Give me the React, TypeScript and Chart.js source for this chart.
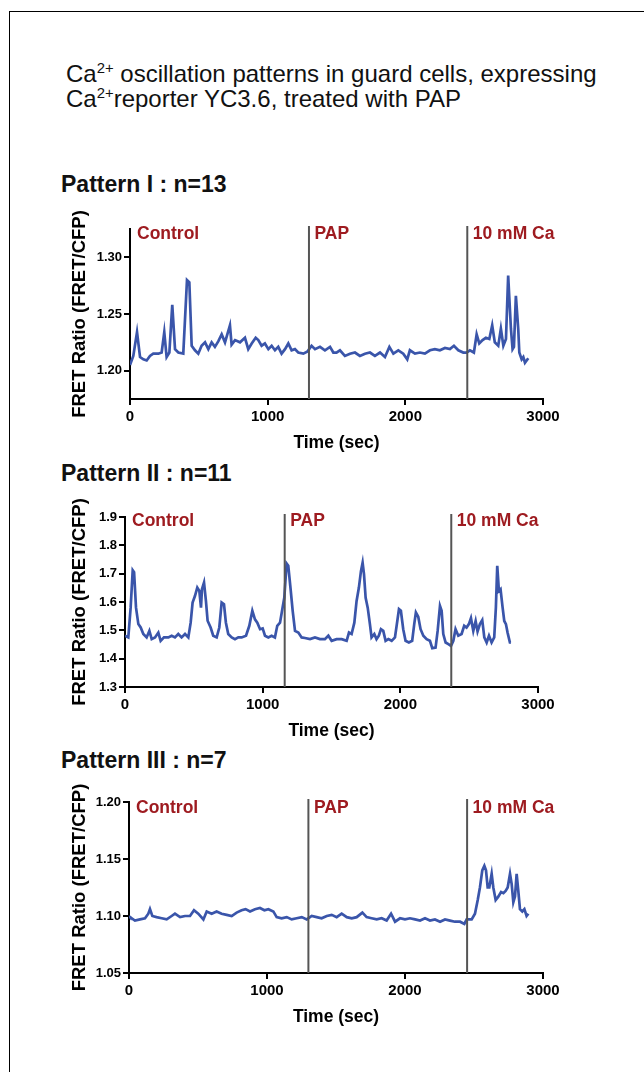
import React, { useEffect, useRef } from "react";
import { Chart, registerables } from "chart.js";

Chart.register(...registerables);

const FONT = '"Liberation Sans", Arial, Helvetica, sans-serif';

// ---------- shared labels ----------
const xTicks = [0, 1000, 2000, 3000];
const eventLabels = ["Control", "PAP", "10 mM Ca"];
const xTitle = "Time (sec)";
const yTitle = "FRET Ratio (FRET/CFP)";

// ---------- Pattern I ----------
const p1Title = "Pattern I : n=13";
const p1Events = [0, 1300, 2450];
const p1YTicks = [1.2, 1.25, 1.3];
const p1Time = [
  0, 24, 51, 73, 97, 121, 145, 169, 206, 230, 249, 266, 286, 307, 327, 351, 387, 414, 431, 448,
  472, 496, 520, 545, 569, 593, 617, 642, 666, 690, 726, 738, 763, 799, 835, 859, 884, 913, 932, 956,
  980, 1005, 1029, 1053, 1077, 1101, 1126, 1150, 1174, 1198, 1222, 1259, 1290, 1319, 1344, 1380, 1416, 1453, 1477, 1500,
  1525, 1561, 1598, 1634, 1670, 1707, 1743, 1779, 1816, 1852, 1884, 1913, 1949, 1985, 2014, 2033, 2070, 2106, 2142, 2179,
  2215, 2251, 2288, 2324, 2353, 2385, 2421, 2445, 2469, 2498, 2518, 2537, 2561, 2585, 2610, 2631, 2650, 2675, 2694, 2712,
  2731, 2747, 2767, 2779, 2789, 2803, 2820, 2828, 2845, 2857, 2869, 2893,
];
const p1Ratio = [
  1.205, 1.213, 1.234, 1.212, 1.21, 1.209, 1.213, 1.215, 1.215, 1.216, 1.234, 1.212, 1.216, 1.258, 1.219, 1.216, 1.215, 1.28, 1.278, 1.222,
  1.218, 1.215, 1.222, 1.225, 1.219, 1.225, 1.221, 1.226, 1.232, 1.225, 1.24, 1.223, 1.227, 1.225, 1.229, 1.219, 1.224, 1.229, 1.227, 1.222,
  1.224, 1.219, 1.222, 1.218, 1.221, 1.215, 1.219, 1.224, 1.218, 1.219, 1.216, 1.215, 1.217, 1.222, 1.219, 1.221, 1.218, 1.221, 1.216, 1.216,
  1.218, 1.213, 1.215, 1.216, 1.213, 1.215, 1.216, 1.213, 1.216, 1.212, 1.221, 1.215, 1.218, 1.215, 1.21, 1.218, 1.215, 1.216, 1.215, 1.218,
  1.219, 1.218, 1.22, 1.219, 1.222, 1.218, 1.216, 1.216, 1.218, 1.216, 1.232, 1.224, 1.227, 1.229, 1.228, 1.24, 1.225, 1.222, 1.237, 1.222,
  1.228, 1.284, 1.237, 1.219, 1.221, 1.266, 1.237, 1.216, 1.21, 1.212, 1.207, 1.211,
];

// ---------- Pattern II ----------
const p2Title = "Pattern II : n=11";
const p2Events = [0, 1160, 2370];
const p2YTicks = [1.3, 1.4, 1.5, 1.6, 1.7, 1.8, 1.9];
const p2Time = [
  0, 24, 41, 56, 66, 80, 97, 114, 133, 157, 177, 194, 218, 242, 259, 283, 315, 339, 363, 387,
  411, 436, 460, 477, 491, 508, 525, 540, 552, 559, 574, 588, 600, 622, 641, 666, 685, 702, 719, 733,
  750, 775, 799, 823, 847, 879, 903, 925, 944, 961, 981, 1000, 1017, 1041, 1065, 1089, 1106, 1126, 1143, 1157,
  1174, 1186, 1203, 1218, 1235, 1259, 1283, 1307, 1344, 1380, 1416, 1452, 1477, 1501, 1537, 1574, 1610, 1627, 1646, 1666,
  1682, 1699, 1714, 1726, 1736, 1748, 1763, 1779, 1791, 1811, 1827, 1844, 1859, 1876, 1893, 1913, 1937, 1961, 1978, 1990,
  2004, 2021, 2038, 2062, 2086, 2101, 2113, 2130, 2147, 2167, 2191, 2215, 2232, 2256, 2271, 2288, 2300, 2312, 2329, 2349,
  2368, 2385, 2401, 2421, 2445, 2464, 2481, 2498, 2513, 2530, 2547, 2561, 2578, 2595, 2610, 2627, 2644, 2663, 2682, 2694,
  2704, 2716, 2728, 2743, 2755, 2767, 2779, 2796, 2804,
];
const p2Ratio = [
  1.481, 1.475, 1.58, 1.712, 1.705, 1.58, 1.522, 1.51, 1.487, 1.475, 1.498, 1.469, 1.475, 1.492, 1.463, 1.475, 1.475, 1.481, 1.475, 1.487,
  1.475, 1.487, 1.475, 1.527, 1.598, 1.621, 1.651, 1.639, 1.58, 1.645, 1.669, 1.603, 1.534, 1.51, 1.481, 1.475, 1.51, 1.598, 1.592, 1.527,
  1.487, 1.475, 1.469, 1.475, 1.475, 1.481, 1.516, 1.569, 1.539, 1.527, 1.504, 1.507, 1.481, 1.475, 1.481, 1.475, 1.516, 1.527, 1.575, 1.615,
  1.736, 1.728, 1.645, 1.569, 1.498, 1.492, 1.475, 1.473, 1.469, 1.475, 1.469, 1.469, 1.481, 1.463, 1.469, 1.469, 1.463, 1.492, 1.487, 1.527,
  1.603, 1.651, 1.709, 1.739, 1.698, 1.615, 1.58, 1.522, 1.475, 1.487, 1.469, 1.481, 1.504, 1.498, 1.463, 1.469, 1.463, 1.475, 1.533, 1.575,
  1.569, 1.504, 1.463, 1.457, 1.463, 1.522, 1.563, 1.548, 1.504, 1.481, 1.469, 1.463, 1.437, 1.439, 1.498, 1.586, 1.569, 1.487, 1.457, 1.451,
  1.445, 1.463, 1.504, 1.481, 1.487, 1.516, 1.51, 1.522, 1.543, 1.498, 1.533, 1.496, 1.522, 1.536, 1.475, 1.457, 1.481, 1.457, 1.475, 1.58,
  1.728, 1.639, 1.645, 1.58, 1.533, 1.522, 1.492, 1.457, 1.457,
];

// ---------- Pattern III ----------
const p3Title = "Pattern III : n=7";
const p3Events = [0, 1300, 2450];
const p3YTicks = [1.05, 1.1, 1.15, 1.2];
const p3Time = [
  0, 7, 43, 80, 116, 140, 152, 169, 200, 237, 273, 309, 333, 370, 406, 442, 471, 502, 539, 563,
  599, 635, 671, 708, 744, 780, 816, 845, 877, 913, 949, 981, 1010, 1046, 1070, 1106, 1143, 1179, 1215, 1252,
  1288, 1324, 1360, 1396, 1433, 1469, 1505, 1541, 1578, 1614, 1650, 1691, 1722, 1758, 1795, 1831, 1867, 1899, 1928, 1964,
  2000, 2036, 2073, 2109, 2145, 2181, 2217, 2254, 2290, 2326, 2362, 2399, 2430, 2447, 2483, 2507, 2527, 2543, 2560, 2575,
  2587, 2599, 2611, 2628, 2640, 2657, 2676, 2696, 2713, 2729, 2744, 2761, 2773, 2785, 2797, 2809, 2821, 2833, 2850, 2865,
  2881, 2894,
];
const p3Ratio = [
  1.1, 1.099, 1.096, 1.097, 1.098, 1.102, 1.106, 1.1, 1.099, 1.098, 1.097, 1.1, 1.102, 1.099, 1.1, 1.1, 1.105, 1.102, 1.097, 1.104,
  1.102, 1.104, 1.102, 1.101, 1.1, 1.103, 1.105, 1.106, 1.104, 1.106, 1.107, 1.105, 1.106, 1.104, 1.099, 1.098, 1.099, 1.097, 1.098, 1.099,
  1.097, 1.1, 1.099, 1.098, 1.1, 1.101, 1.099, 1.102, 1.099, 1.098, 1.099, 1.103, 1.099, 1.098, 1.097, 1.098, 1.096, 1.102, 1.095, 1.098,
  1.097, 1.098, 1.097, 1.096, 1.098, 1.096, 1.097, 1.095, 1.097, 1.096, 1.095, 1.095, 1.093, 1.097, 1.097, 1.102, 1.114, 1.125, 1.14, 1.144,
  1.14, 1.125, 1.125, 1.137, 1.125, 1.114, 1.117, 1.121, 1.12, 1.122, 1.125, 1.137, 1.128, 1.112, 1.117, 1.137, 1.122, 1.106, 1.104, 1.106,
  1.1, 1.102,
];

const LINE_COLOR = "#3a55aa";
const EVENT_COLOR = "#9e1b20";

const phasePlugin = {
  id: "phaseMarks",
  afterDatasetsDraw(chart: any, _args: any, opts: any) {
    const { ctx, chartArea, scales } = chart;
    const xs = scales.x;
    ctx.save();
    (opts.times as number[]).forEach((t, i) => {
      const px = xs.getPixelForValue(t);
      if (i > 0) {
        ctx.strokeStyle = "#555555";
        ctx.lineWidth = 2;
        ctx.beginPath();
        ctx.moveTo(px, chartArea.top - 3);
        ctx.lineTo(px, chartArea.bottom);
        ctx.stroke();
      }
      ctx.fillStyle = EVENT_COLOR;
      ctx.font = `bold 17.5px ${FONT}`;
      ctx.textBaseline = "alphabetic";
      ctx.textAlign = "left";
      ctx.fillText(opts.labels[i], px + (i === 0 ? 7 : 5.5), chartArea.top + opts.labelDy);
    });
    // y-axis title (drawn here so it is not truncated to the plot height)
    ctx.save();
    ctx.translate(opts.yTitleX, (chartArea.top + chartArea.bottom) / 2);
    ctx.rotate(-Math.PI / 2);
    ctx.fillStyle = "#000";
    ctx.font = `bold 18.5px ${FONT}`;
    ctx.textAlign = "center";
    ctx.textBaseline = "middle";
    ctx.fillText(opts.yTitle, 0, 0);
    ctx.restore();
    ctx.restore();
  },
};

type PanelProps = {
  left: number;
  top: number;
  width: number;
  height: number;
  time: number[];
  ratio: number[];
  events: number[];
  yTicks: number[];
  yMin: number;
  yMax: number;
  decimals: number;
  yWidth: number;
  xHeight: number;
  padTop: number;
  padRight: number;
  yTitleX: number;
  labelDy: number;
};

function Panel(p: PanelProps) {
  const ref = useRef<HTMLCanvasElement | null>(null);
  useEffect(() => {
    if (!ref.current) return;
    const points = p.time.map((t, i) => ({ x: t, y: p.ratio[i] }));
    const tickFontY = { family: FONT, size: 13, weight: "bold" as const };
    const tickFontX = { family: FONT, size: 15, weight: "bold" as const };
    const chart = new Chart(ref.current, {
      type: "line",
      data: {
        datasets: [
          {
            data: points,
            borderColor: LINE_COLOR,
            borderWidth: 2.7,
            pointRadius: 0,
            tension: 0,
            fill: false,
          },
        ],
      },
      options: {
        animation: false,
        responsive: false,
        maintainAspectRatio: false,
        events: [],
        layout: { padding: { top: p.padTop, right: p.padRight, left: 0, bottom: 0 } },
        plugins: {
          legend: { display: false },
          tooltip: { enabled: false },
          title: { display: false },
          phaseMarks: {
            times: p.events,
            labels: eventLabels,
            labelDy: p.labelDy,
            yTitle: yTitle,
            yTitleX: p.yTitleX,
          },
        } as any,
        scales: {
          x: {
            type: "linear",
            min: 0,
            max: 3000,
            afterBuildTicks: (s: any) => {
              s.ticks = xTicks.map((v) => ({ value: v }));
            },
            afterFit: (s: any) => {
              s.height = p.xHeight;
            },
            ticks: {
              autoSkip: false,
              maxRotation: 0,
              color: "#000",
              font: tickFontX,
              padding: 3,
              callback: (v: any) => String(v),
            },
            grid: {
              display: true,
              drawOnChartArea: false,
              drawTicks: true,
              tickLength: 6,
              color: "#000",
              lineWidth: 2,
            },
            border: { display: true, color: "#000", width: 2 },
            title: {
              display: true,
              text: xTitle,
              color: "#000",
              font: { family: FONT, size: 17.5, weight: "bold" },
              padding: { top: 0, bottom: 1.5 },
            },
          },
          y: {
            type: "linear",
            min: p.yMin,
            max: p.yMax,
            afterBuildTicks: (s: any) => {
              s.ticks = p.yTicks.map((v) => ({ value: v }));
            },
            afterFit: (s: any) => {
              s.width = p.yWidth;
            },
            ticks: {
              autoSkip: false,
              color: "#000",
              font: tickFontY,
              padding: 2,
              callback: (v: any) => Number(v).toFixed(p.decimals),
            },
            grid: {
              display: true,
              drawOnChartArea: false,
              drawTicks: true,
              tickLength: 6,
              color: "#000",
              lineWidth: 2,
            },
            border: { display: true, color: "#000", width: 2 },
            title: { display: false },
          },
        },
      },
      plugins: [phasePlugin as any],
    });
    return () => chart.destroy();
  }, []);
  return (
    <canvas
      ref={ref}
      width={p.width}
      height={p.height}
      style={{ position: "absolute", left: p.left, top: p.top, width: p.width, height: p.height }}
    />
  );
}

const titleStyle: React.CSSProperties = {
  position: "absolute",
  left: 61,
  fontFamily: FONT,
  fontWeight: "bold",
  fontSize: 23,
  lineHeight: "23px",
  color: "#111",
  whiteSpace: "nowrap",
};

const supStyle: React.CSSProperties = {
  fontSize: "0.62em",
  position: "relative",
  top: "-0.6em",
};

export default function App() {
  return (
    <div>
      <div
        style={{
          position: "absolute",
          left: 9,
          top: 11,
          width: 635,
          height: 1061,
          borderTop: "1px solid #000",
          borderLeft: "1px solid #000",
          boxSizing: "border-box",
        }}
      />
      <div
        style={{
          position: "absolute",
          left: 66,
          top: 63,
          fontFamily: FONT,
          fontSize: 24,
          lineHeight: "22px",
          color: "#111",
          whiteSpace: "nowrap",
        }}
      >
        <div>
          Ca<span style={supStyle}>2+</span> oscillation patterns in guard cells, expressing
        </div>
        <div>
          Ca<span style={supStyle}>2+</span>reporter YC3.6, treated with PAP
        </div>
      </div>

      <div style={{ ...titleStyle, top: 172.5 }}>{p1Title}</div>
      <Panel
        left={60}
        top={200}
        width={520}
        height={255}
        time={p1Time}
        ratio={p1Ratio}
        events={p1Events}
        yTicks={p1YTicks}
        yMin={1.175}
        yMax={1.325}
        decimals={2}
        yWidth={70}
        xHeight={56}
        padTop={29}
        padRight={37}
        yTitleX={20}
        labelDy={10}
      />

      <div style={{ ...titleStyle, top: 462 }}>{p2Title}</div>
      <Panel
        left={55}
        top={490}
        width={520}
        height={253}
        time={p2Time}
        ratio={p2Ratio}
        events={p2Events}
        yTicks={p2YTicks}
        yMin={1.3}
        yMax={1.9}
        decimals={1}
        yWidth={70}
        xHeight={56}
        padTop={27}
        padRight={37}
        yTitleX={25}
        labelDy={9}
      />

      <div style={{ ...titleStyle, top: 749 }}>{p3Title}</div>
      <Panel
        left={59}
        top={775}
        width={520}
        height={254}
        time={p3Time}
        ratio={p3Ratio}
        events={p3Events}
        yTicks={p3YTicks}
        yMin={1.05}
        yMax={1.2}
        decimals={2}
        yWidth={70}
        xHeight={56}
        padTop={27}
        padRight={36}
        yTitleX={21}
        labelDy={10.5}
      />
    </div>
  );
}
